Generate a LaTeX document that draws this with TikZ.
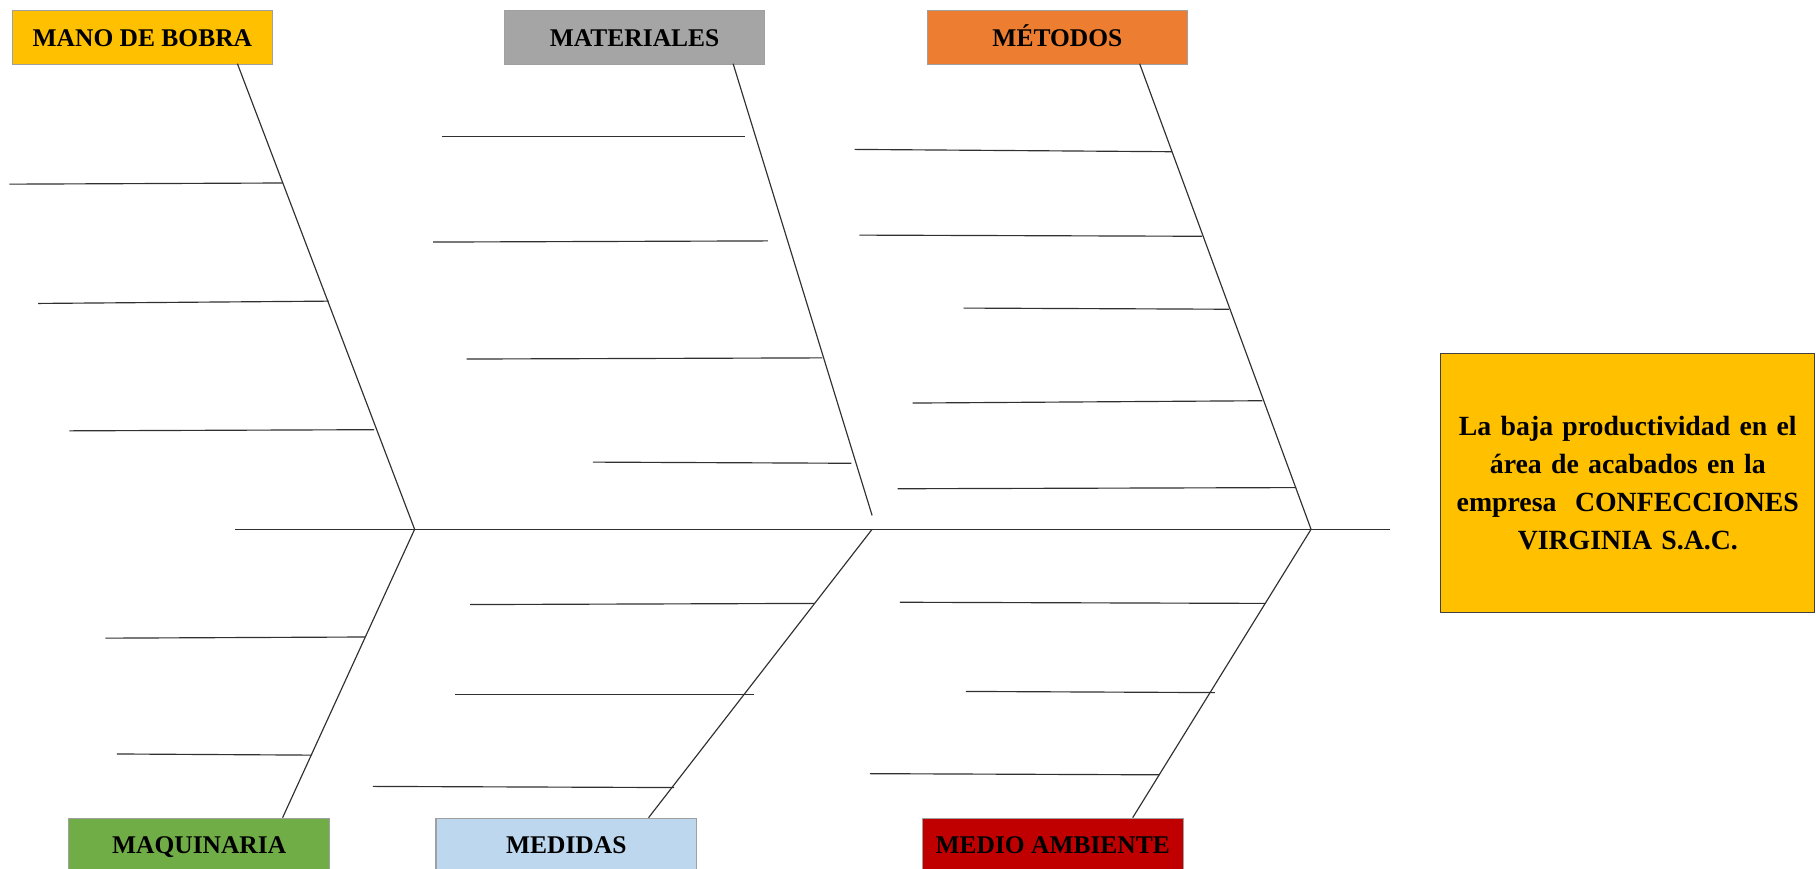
\documentclass[tikz,border=0pt]{standalone}
\usepackage{fontspec}
\setmainfont{Liberation Serif}
\usetikzlibrary{calc}
\definecolor{cgold}{HTML}{FFC000}
\definecolor{cgray}{HTML}{A5A5A5}
\definecolor{corange}{HTML}{ED7D31}
\definecolor{cgreen}{HTML}{70AD47}
\definecolor{cblue}{HTML}{BDD7EE}
\definecolor{cred}{HTML}{C00000}
\definecolor{boxline}{HTML}{A0A0A0}
\definecolor{headline}{HTML}{404040}
\definecolor{bonecol}{HTML}{303030}
\begin{document}
\begin{tikzpicture}[x=1pt,y=-1pt,
  cat/.style={draw=boxline, line width=0.9pt, minimum width=225pt, minimum height=46pt,
    inner sep=0pt, text height=15pt, text depth=0pt,
    font=\fontsize{22}{26}\selectfont\bfseries, anchor=north west},
  bone/.style={draw=bonecol, line width=1pt},
  rib/.style={draw=bonecol, line width=1pt}]
\useasboundingbox (0,0) rectangle (1568,750);
\clip (0,0) rectangle (1568,750);

% category boxes
\node[cat, fill=cgold]   (mano) at (10,9)    {MANO DE BOBRA};
\node[cat, fill=cgray]   (mat)  at (435,9)   {MATERIALES};
\node[cat, fill=corange] (met)  at (800,9)   {MÉTODOS};
\node[cat, fill=cgreen]  (maq)  at (59,706)  {MAQUINARIA};
\node[cat, fill=cblue]   (med)  at (376,706) {MEDIDAS};
\node[cat, fill=cred]    (amb)  at (796,706) {MEDIO AMBIENTE};

% effect box
\node[draw=headline, line width=1pt, fill=cgold, minimum width=323pt, minimum height=224pt,
  inner sep=0pt, align=center, text width=315pt,
  font=\fontsize{24}{33}\selectfont\bfseries] (head) at (1405.5,417)
  {La baja productividad en el\\área de acabados en la\\empresa\ \ CONFECCIONES\\VIRGINIA S.A.C.};

% spine
\coordinate (tail) at (203,457);
\coordinate (spend) at (1200,457);
\coordinate (j1) at (358,457);
\coordinate (j2) at (753,457);
\coordinate (j3) at (1132,457);
\draw[bone, line width=1.2pt] (tail) -- (spend);

% bone anchors at boxes
\coordinate (manoB) at (205,55);
\coordinate (matB)  at (633,55);
\coordinate (matE)  at (753,445);
\coordinate (metB)  at (984,55);
\coordinate (maqB)  at (244,706);
\coordinate (medB)  at (560,706);
\coordinate (ambB)  at (978,706);

\draw[bone] (manoB) -- (j1);
\draw[bone] (matB) -- (matE);
\draw[bone] (metB) -- (j3);
\draw[bone] (j1) -- (maqB);
\draw[bone] (j2) -- (medB);
\draw[bone] (j3) -- (ambB);

% ribs: mano de bobra
\draw[rib] (8,159) -- (244,158);
\draw[rib] (33,262) -- (284,260);
\draw[rib] (60,372) -- (323,371);
% materiales
\draw[rib] (382,118) -- (643,118);
\draw[rib] (374,209) -- (663,208);
\draw[rib] (403,310) -- (710,309);
\draw[rib] (512,399) -- (735,400);
% metodos
\draw[rib] (738,129) -- (1012,131);
\draw[rib] (742,203) -- (1038,204);
\draw[rib] (832,266) -- (1061,267);
\draw[rib] (788,348) -- (1090,346);
\draw[rib] (775,422) -- (1119,421);
% maquinaria
\draw[rib] (91,551) -- (315,550);
\draw[rib] (101,651) -- (269,652);
% medidas
\draw[rib] (406,522) -- (703,521);
\draw[rib] (393,600) -- (651,600);
\draw[rib] (322,679) -- (582,680);
% medio ambiente
\draw[rib] (777,520) -- (1093,521);
\draw[rib] (834,597) -- (1049,598);
\draw[rib] (751,668) -- (1001,669);
\end{tikzpicture}
\end{document}
